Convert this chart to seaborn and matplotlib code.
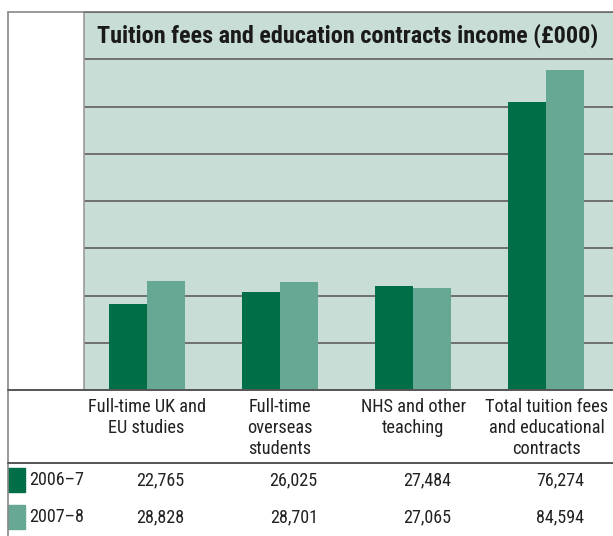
import matplotlib
matplotlib.use("Agg")
import matplotlib.pyplot as plt
import pandas as pd
import seaborn as sns
from matplotlib import font_manager
from matplotlib.lines import Line2D
from matplotlib.patches import Rectangle

categories = ["Full-time UK and\nEU studies", "Full-time\noverseas\nstudents",
              "NHS and other\nteaching", "Total tuition fees\nand educational\ncontracts"]
years = ["2006\u20137", "2007\u20138"]
values_0607 = [22765, 26025, 27484, 76274]
values_0708 = [28828, 28701, 27065, 84594]
title = "Tuition fees and education contracts income (\u00a3000)"

dark = "#006f47"
light = "#66a893"
bg = "#c8ddd5"
rule = "#6e6e6e"

df = pd.DataFrame({
    "category": categories * 2,
    "year": [years[0]] * 4 + [years[1]] * 4,
    "value": values_0607 + values_0708,
})

# the original uses a condensed grotesque; take the closest narrow face installed
names = {f.name for f in font_manager.fontManager.ttflist}
narrow = None
for cand in ["Liberation Sans Narrow", "Roboto Condensed", "Open Sans Condensed",
             "Noto Sans Condensed", "DejaVu Sans Condensed"]:
    if cand in names:
        narrow = cand
        break
if narrow is None:
    for f in font_manager.fontManager.ttflist:
        if "Narrow" in f.name or "Condensed" in f.name:
            narrow = f.name
            break
families = ([narrow] if narrow else []) + ["DejaVu Sans"]

sns.set_theme(style="white")
plt.rcParams["font.family"] = families
stretch = "condensed" if narrow else "normal"

W, H = 613, 536
fig = plt.figure(figsize=(W / 100, H / 100), dpi=100)
renderer = fig.canvas.get_renderer()


def fx(px):
    return px / W


def fy(py):
    return 1 - py / H


def fit_size(s, target_px, weight="normal", base=12.0):
    t = fig.text(0, 0, s, fontsize=base, fontweight=weight, fontstretch=stretch)
    w = t.get_window_extent(renderer).width
    t.remove()
    return base * target_px / w


title_size = fit_size(title, 503, "bold")
body_size = min(14.5, fit_size("Total tuition fees", 123))
num_size = min(14.5, fit_size("22,765", 48))

ax = fig.add_axes([fx(84), fy(390), fx(613) - fx(84), fy(12) - fy(390)])
ax.set_facecolor(bg)
sns.barplot(data=df, x="category", y="value", hue="year", palette=[dark, light],
            width=0.57, saturation=1, legend=False, linewidth=0, ax=ax)
ax.set_xlim(-0.47, 3.5)
ax.set_ylim(0, 100000)
ax.set_yticks(range(0, 100001, 12500))
ax.yaxis.grid(True, color=rule, linewidth=1.4)
ax.set_axisbelow(True)
ax.set_xticks([])
ax.set_yticklabels([])
ax.tick_params(left=False, bottom=False)
ax.set_xlabel("")
ax.set_ylabel("")
for s in ["right", "bottom"]:
    ax.spines[s].set_visible(False)
ax.spines["left"].set_color("#999999")
ax.spines["left"].set_linewidth(1.2)
ax.spines["top"].set_color(rule)
ax.spines["top"].set_linewidth(1.2)

# title band covers the top grid cell
ax.text((97 - 84) / 529, 93750, title, transform=ax.get_yaxis_transform(),
        ha="left", va="center", fontsize=title_size, fontweight="bold",
        fontstretch=stretch, color="#1a1a1a")

# frame and table rules
fig.add_artist(Line2D([fx(8), fx(8)], [fy(12), fy(536)], color="#888888", lw=1.2))
fig.add_artist(Line2D([fx(8), fx(84)], [fy(12), fy(12)], color="#888888", lw=1.2))
fig.add_artist(Line2D([fx(8), 1], [fy(390), fy(390)], color="#555555", lw=1.4))
fig.add_artist(Line2D([fx(8), 1], [fy(463), fy(463)], color="#555555", lw=1.4))

# category labels under the bars
for i, cat in enumerate(categories):
    xd = fig.transFigure.inverted().transform(ax.transData.transform((i, 0)))[0]
    fig.text(xd, fy(398), cat, ha="center", va="top", fontsize=body_size,
             fontstretch=stretch, color="#222222", linespacing=1.22)

# values table
rows = [(years[0], values_0607, dark, 480), (years[1], values_0708, light, 517)]
for label, vals, col, ypx in rows:
    fig.add_artist(Rectangle((fx(8), fy(ypx + 12)), fx(25) - fx(8), fy(ypx - 12) - fy(ypx + 12),
                             color=col, transform=fig.transFigure))
    fig.text(fx(29), fy(ypx), label, ha="left", va="center", fontsize=num_size,
             fontstretch=stretch, color="#222222")
    for i, v in enumerate(vals):
        xr = fig.transFigure.inverted().transform(ax.transData.transform((i + 0.285, 0)))[0]
        fig.text(xr, fy(ypx), f"{v:,}", ha="right", va="center", fontsize=num_size,
                 fontstretch=stretch, color="#222222")

fig.savefig("out.png", dpi=100, facecolor="white")
